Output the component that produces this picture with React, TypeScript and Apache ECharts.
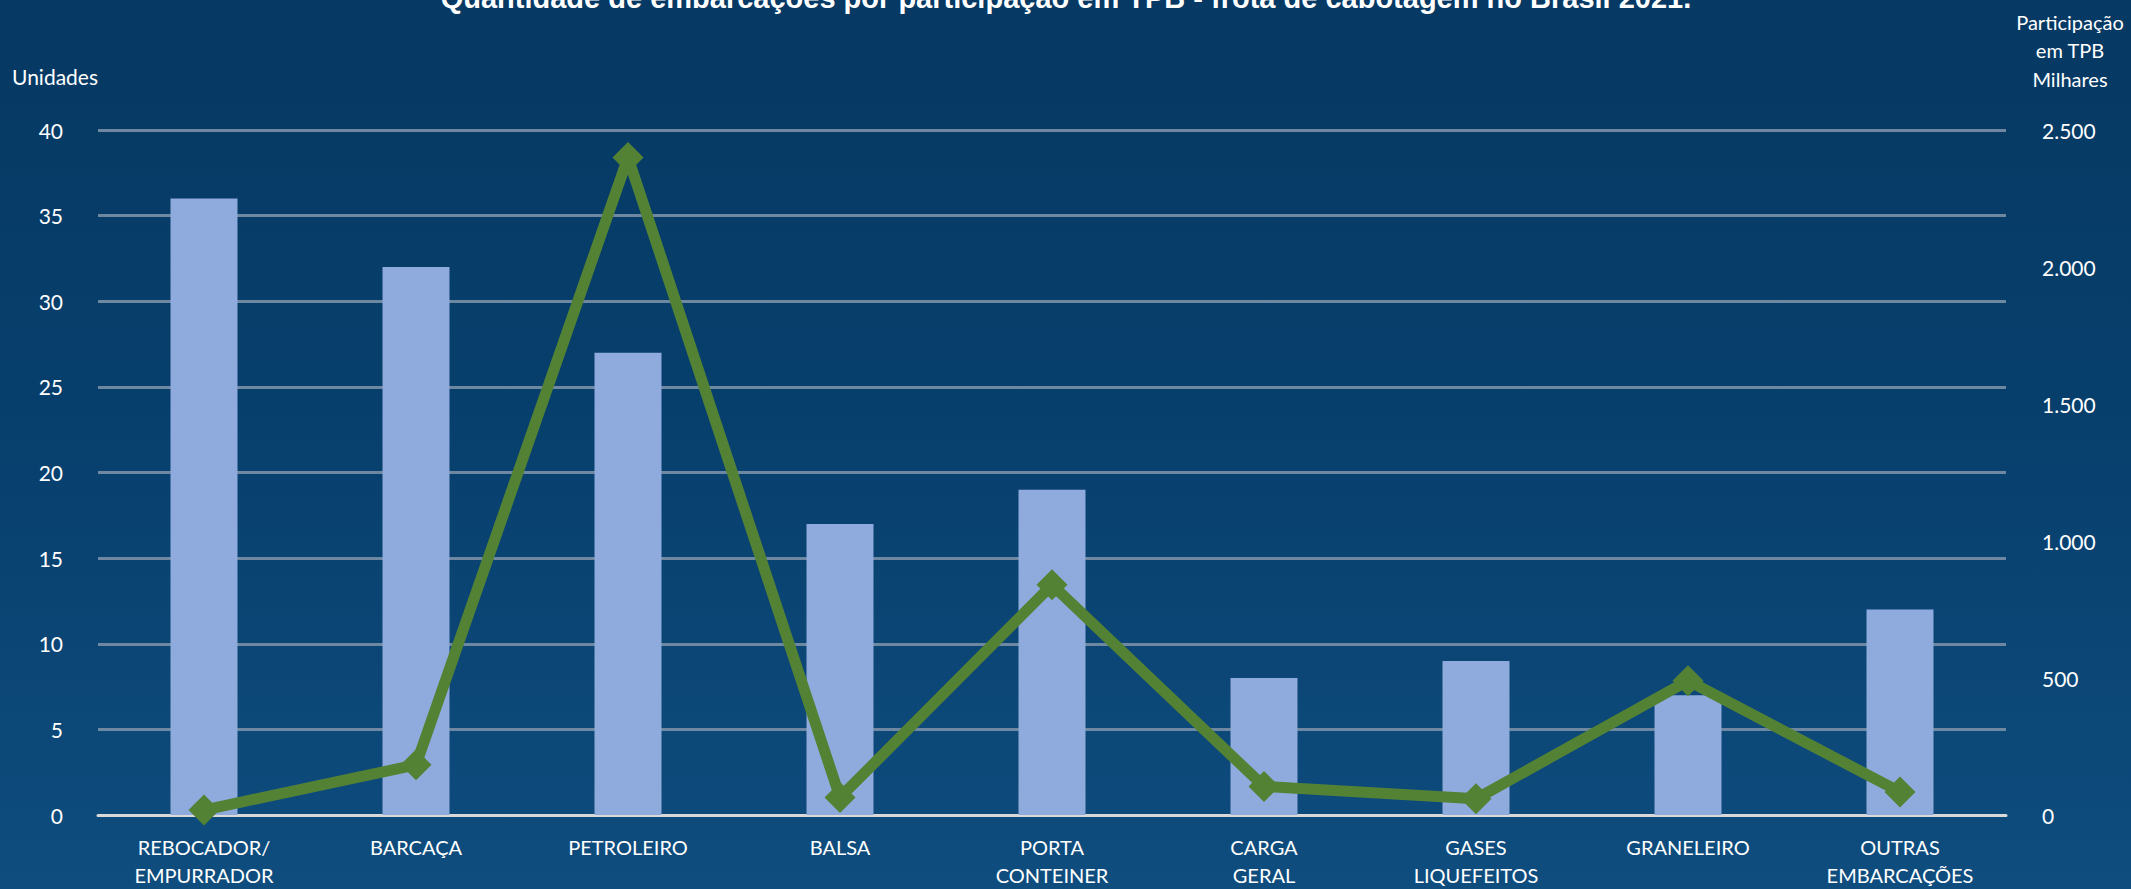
import React, { useEffect, useRef } from "react";
import * as echarts from "echarts";

const categories = [
  "REBOCADOR/\nEMPURRADOR",
  "BARCAÇA",
  "PETROLEIRO",
  "BALSA",
  "PORTA\nCONTEINER",
  "CARGA\nGERAL",
  "GASES\nLIQUEFEITOS",
  "GRANELEIRO",
  "OUTRAS\nEMBARCAÇÕES",
];
const unidades = [36, 32, 27, 17, 19, 8, 9, 7, 12];
const tpbMilhares = [18, 183, 2400, 64, 840, 104, 59, 490, 84];

const titleText =
  "Quantidade de embarcações por participação em TPB - frota de cabotagem no Brasil 2021.";
const leftAxisName = "Unidades";
const rightAxisName = "Participação\nem TPB\nMilhares";

const fmtThousands = (v: number) =>
  String(Math.round(v)).replace(/\B(?=(\d{3})+(?!\d))/g, ".");

export default function App() {
  const ref = useRef<HTMLDivElement>(null);
  useEffect(() => {
    document.body.style.margin = "0";
    const chart = echarts.init(ref.current!, null, { renderer: "svg" });
    const font = "Lato, 'Open Sans', sans-serif";
    chart.setOption({
      animation: false,
      backgroundColor: "transparent",
      grid: { left: 98, right: 125, top: 130, bottom: 71 },
      graphic: [
        {
          type: "text",
          x: 1066,
          y: -2,
          style: {
            text: titleText,
            fill: "#ffffff",
            font: "bold 29px 'Liberation Sans', Arial, sans-serif",
            textAlign: "center",
            textVerticalAlign: "middle",
          },
        },
        {
          type: "text",
          x: 12,
          y: 76,
          style: {
            text: leftAxisName,
            fill: "#ffffff",
            font: "21px " + font,
            textAlign: "left",
            textVerticalAlign: "middle",
          },
        },
        {
          type: "text",
          x: 2070,
          y: 50,
          style: {
            text: rightAxisName,
            fill: "#ffffff",
            font: "20px " + font,
            lineHeight: 28.5,
            textAlign: "center",
            textVerticalAlign: "middle",
          },
        },
      ],
      xAxis: {
        type: "category",
        data: categories,
        axisTick: { show: false },
        axisLine: { show: true, lineStyle: { color: "#d9d9d9", width: 3 } },
        axisLabel: {
          color: "#ffffff",
          fontFamily: font,
          fontSize: 20,
          lineHeight: 28,
          margin: 18,
          interval: 0,
        },
      },
      yAxis: [
        {
          type: "value",
          min: 0,
          max: 40,
          interval: 5,
          axisLine: { show: false },
          axisTick: { show: false },
          axisLabel: {
            color: "#ffffff",
            fontFamily: font,
            fontSize: 21,
            margin: 35,
          },
          splitLine: { lineStyle: { color: "#6f88a2", width: 3 } },
        },
        {
          type: "value",
          min: 0,
          max: 2500,
          interval: 500,
          position: "right",
          axisLine: { show: false },
          axisTick: { show: false },
          axisLabel: {
            color: "#ffffff",
            fontFamily: font,
            fontSize: 21,
            margin: 36,
            align: "left",
            formatter: (v: number) => fmtThousands(v),
          },
          splitLine: { show: false },
        },
      ],
      series: [
        {
          type: "bar",
          data: unidades,
          yAxisIndex: 0,
          barWidth: 67,
          itemStyle: { color: "#8faadc" },
        },
        {
          type: "line",
          data: tpbMilhares,
          yAxisIndex: 1,
          symbol: "diamond",
          symbolSize: 31,
          lineStyle: { color: "#548235", width: 11 },
          itemStyle: { color: "#548235" },
          z: 3,
        },
      ],
    });
    return () => chart.dispose();
  }, []);
  return (
    <div
      ref={ref}
      style={{
        position: "fixed",
        left: 0,
        top: 0,
        width: 2131,
        height: 889,
        background:
          "linear-gradient(180deg, #063963 0%, #073f6c 45%, #0b4676 75%, #0e4d7e 100%)",
      }}
    />
  );
}
